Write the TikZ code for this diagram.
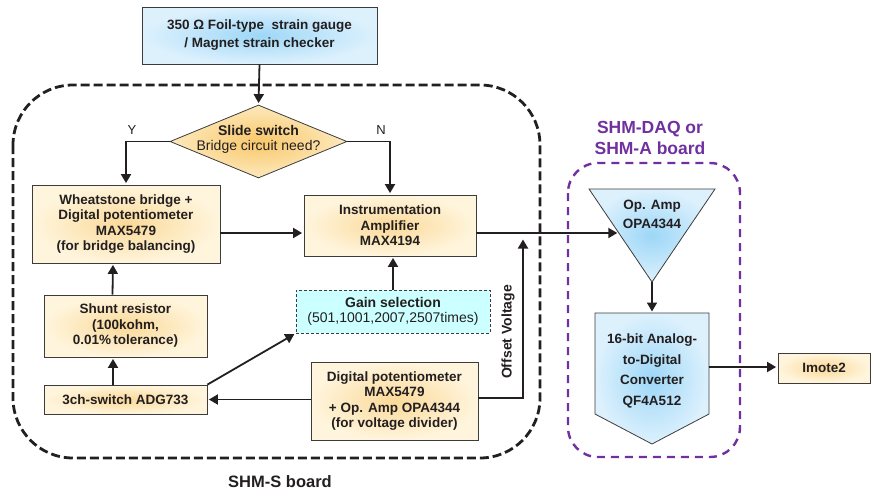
\documentclass[tikz,border=0pt]{standalone}
\usepackage{fontspec}
\setmainfont{Liberation Sans}
\usetikzlibrary{shapes.geometric,arrows.meta,calc}

\definecolor{ink}{HTML}{231F20}
\definecolor{boxline}{HTML}{3C3C3C}
\definecolor{ylwin}{HTML}{FAD998}
\definecolor{ylwout}{HTML}{FFF5DD}
\definecolor{bluin}{HTML}{9DD7F7}
\definecolor{bluout}{HTML}{DDF1FD}
\definecolor{dmdin}{HTML}{F8C76A}
\definecolor{dmdout}{HTML}{FDE9BC}
\definecolor{gaincol}{HTML}{CCFFFF}
\definecolor{daqpurple}{HTML}{7030A0}

\newcommand{\Board}[4]{%
    \draw[#1, rounded corners=#4] #2 rectangle #3;
}

\tikzset{
    txt/.style={font=\fontsize{13.5}{15.5}\selectfont\bfseries, text=ink, align=center},
    blk/.style={txt, draw=boxline, line width=0.8pt, inner sep=0pt, inner color=ylwin, outer color=ylwout},
    blublk/.style={txt, draw=boxline, line width=0.8pt, inner sep=0pt, inner color=bluin, outer color=bluout},
    gainbox/.style={txt, draw=boxline, line width=0.8pt, dash pattern=on 3pt off 2pt, inner sep=0pt, fill=gaincol},
    dmd/.style={diamond, draw=boxline, line width=0.8pt, inner sep=0pt, inner color=dmdin, outer color=dmdout},
    wire/.style={ink, line width=1.8pt},
    arr/.style={wire, -{Triangle[length=9pt,width=10pt]}, shorten >=1.5pt},
    sboard/.style={ink, line width=2.8pt, dash pattern=on 9pt off 4pt},
    daqboard/.style={daqpurple, line width=2.4pt, dash pattern=on 8pt off 6pt}
}

\begin{document}
\begin{tikzpicture}[x=1pt,y=-1pt]
        \useasboundingbox (0,0) rectangle (876,490);
        \Board{sboard}{(13,85)}{(540,458)}{60pt}
        \Board{daqboard}{(568,163)}{(740,457)}{30pt}
        \node[font=\fontsize{16.5}{18}\selectfont\bfseries, text=ink] (slbl) at (280,482) {SHM-S board};
        \node[font=\fontsize{17.5}{21}\selectfont\bfseries, text=daqpurple, align=center] (dlbl) at (650,137.5) {SHM-DAQ or\\SHM-A board};
        \node[blublk, font=\fontsize{13.5}{18}\selectfont\bfseries, minimum width=235pt, minimum height=57pt] (src) at (259.5,35.5) {350 Ω Foil-type~ strain gauge\\/ Magnet strain checker};
        \node[dmd, minimum width=177pt, minimum height=73pt] (sld) at (258.5,141.5) {};
        \node[txt, font=\fontsize{14}{15.5}\selectfont] (sldtxt) at (258.5,139.5) {\textbf{Slide switch}\\\mdseries Bridge circuit need?};
        \node[blk, minimum width=188pt, minimum height=78pt] (wb) at (126,224) {Wheatstone bridge +\\Digital potentiometer\\MAX5479\\(for bridge balancing)};
        \node[blk, minimum width=172pt, minimum height=61pt] (ia) at (390,225.5) {Instrumentation\\Amplifier\\MAX4194};
        \node[gainbox, font=\fontsize{14}{15}\selectfont, minimum width=194pt, minimum height=43pt] (gs) at (393,311.5) {\textbf{Gain selection}\\\mdseries(501,1001,2007,2507times)};
        \node[blk, minimum width=163pt, minimum height=62pt] (sr) at (125.5,326) {Shunt resistor\\(100kohm,\\0.01\%\,tolerance)};
        \node[blk, minimum width=163pt, minimum height=29pt] (chsw) at (125.5,399.5) {3ch-switch ADG733};
        \node[blk, minimum width=167pt, minimum height=78pt] (dp) at (394.5,401) {Digital potentiometer\\MAX5479\\+ Op. Amp OPA4344\\(for voltage divider)};
        \node[blk, minimum width=92pt, minimum height=30pt] (imt) at (824,368) {Imote2};
        \node[txt, font=\fontsize{13}{15}\selectfont] (ylbl) at (132,130) {Y};
        \node[txt, font=\fontsize{13}{15}\selectfont] (nlbl) at (381,130) {N};
        \node[txt, font=\fontsize{14}{15}\selectfont\bfseries, rotate=90] (ofslbl) at (508,332) {Offset Voltage};
        \shadedraw[draw=boxline, line width=0.8pt, inner color=bluin, outer color=bluout] (589,189) coordinate (oatl) -- (715,189) coordinate (oatr) -- (652,282) coordinate (oab) -- cycle;
        \node[txt, font=\fontsize{13.5}{19.5}\selectfont\bfseries] (oa) at (652,214.5) {Op. Amp\\OPA4344};
        \shadedraw[draw=boxline, line width=0.8pt, inner color=bluin, outer color=bluout] (595,313) coordinate (adctl) -- (709,313) coordinate (adctr) -- (709,414) -- (652,444) -- (595,414) -- cycle;
        \node[txt, font=\fontsize{13.5}{20.7}\selectfont\bfseries] (adc) at (652,371) {16-bit Analog-\\to-Digital\\Converter\\QF4A512};
        \coordinate (oain) at ($(oatl)!0.473!(oab)$);
        \coordinate (adcn) at ($(adctl)!0.5!(adctr)$);
        \coordinate (adcout) at (709,367);
        \coordinate (ofs) at (523,238);
        \draw[arr] (src.south) -- (sld.north);
        \draw[arr] (sld.west) -| (wb.north);
        \draw[arr] (sld.east) -| (ia.north);
        \draw[arr] ([yshift=-9pt]wb.east) -- ([yshift=-7.5pt]ia.west);
        \draw[arr] ([yshift=-7.5pt]ia.east) -- (oain);
        \draw[arr] (gs.north) -- (gs.north |- ia.south);
        \draw[arr] ([xshift=-13pt]sr.north) -- ([xshift=-13pt]wb.south);
        \draw[arr] ([xshift=-12.5pt]chsw.north) -- ([xshift=-12.5pt]sr.south);
        \draw[arr] (chsw.north east) -- (gs.south west);
        \draw[arr] (dp.west |- chsw.east) -- (chsw.east);
        \draw[arr] ([yshift=3pt]dp.east) -| (ofs);
        \draw[arr] (oab) -- (adcn);
        \draw[arr] (adcout) -- (imt.west |- adcout);
    \end{tikzpicture}
\end{document}
